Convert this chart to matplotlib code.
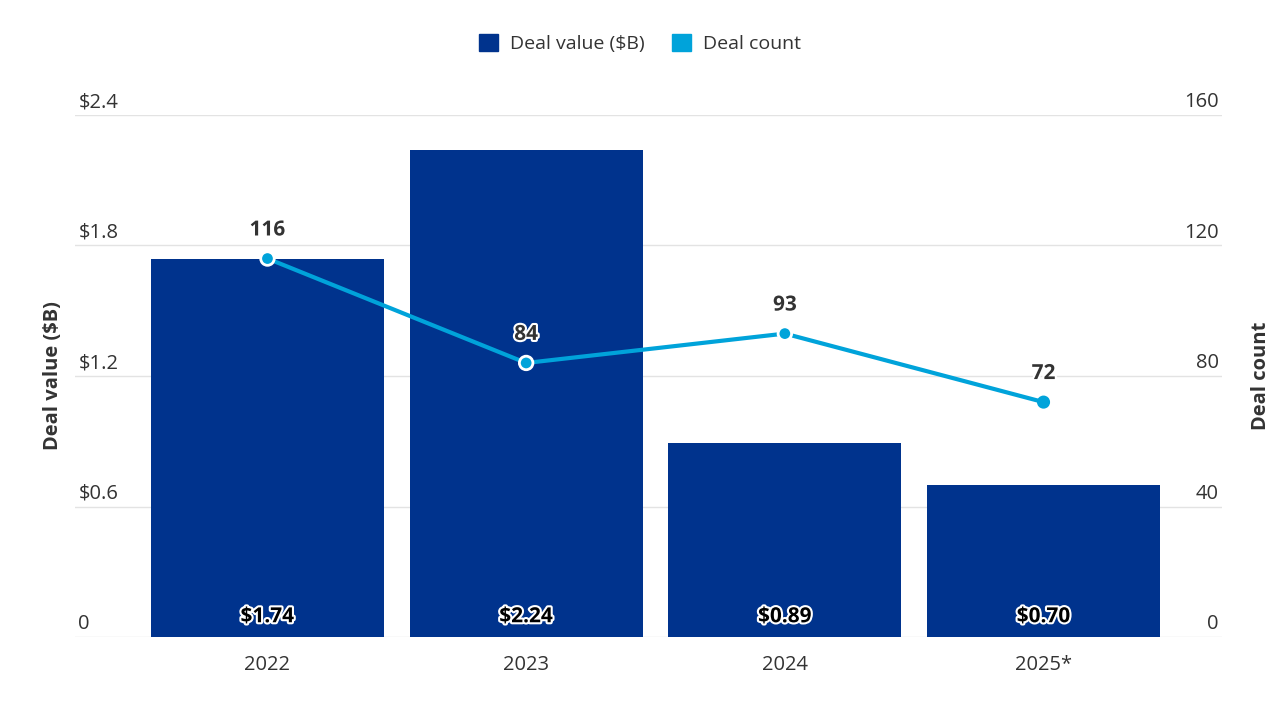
import matplotlib.pyplot as plt
import matplotlib.patheffects as pe
from matplotlib.patches import Patch

plt.rcParams['font.family'] = ['Open Sans', 'DejaVu Sans']

years = ['2022', '2023', '2024', '2025*']
deal_value = [1.74, 2.24, 0.89, 0.70]
deal_count = [116, 84, 93, 72]
value_ticks = [0, 0.6, 1.2, 1.8, 2.4]
value_tick_labels = ['0', '$0.6', '$1.2', '$1.8', '$2.4']
count_ticks = [0, 40, 80, 120, 160]

bar_color = '#00338d'
line_color = '#00a3da'
text_color = '#333333'
grid_color = '#e3e3e3'

fig = plt.figure(figsize=(12.8, 7.12), dpi=100)
ax = fig.add_axes([0.0586, 0.1053, 0.8961, 0.7332])
ax2 = ax.twinx()

x = list(range(len(years)))
ax.bar(x, deal_value, width=0.9, color=bar_color, zorder=2)
ax.set_xlim(-0.744, 3.69)
ax.set_ylim(0, 2.4)
ax2.set_ylim(0, 160)

outline = [pe.withStroke(linewidth=3, foreground='white')]

for t in value_ticks:
    ax.axhline(t, color=grid_color, lw=1, zorder=0)
for t, lab in zip(value_ticks, value_tick_labels):
    ax.text(0.003, t + 0.012, lab, transform=ax.get_yaxis_transform(),
            ha='left', va='bottom', fontsize=14.5, color=text_color)
for t in count_ticks:
    ax2.text(0.997, t + 0.8, str(t), transform=ax2.get_yaxis_transform(),
             ha='right', va='bottom', fontsize=14.5, color=text_color)

for xi, v in zip(x, deal_value):
    ax.text(xi, 0.045, f'${v:.2f}', ha='center', va='bottom', fontsize=15,
            fontweight='bold', color='black', zorder=5, path_effects=outline)

ax2.plot(x, deal_count, color=line_color, lw=3, zorder=4)
edges = ['white'] * (len(x) - 1) + [line_color]
sizes = [95] * (len(x) - 1) + [55]
ax2.scatter(x, deal_count, s=sizes, color=line_color, edgecolors=edges,
            linewidths=2, zorder=5)
for xi, c in zip(x, deal_count):
    ax2.annotate(str(c), (xi, c), xytext=(0, 13), textcoords='offset points',
                 ha='center', va='bottom', fontsize=15, fontweight='bold',
                 color=text_color, path_effects=outline, zorder=6)

for a in (ax, ax2):
    for s in a.spines.values():
        s.set_visible(False)
    a.set_yticks([])
ax.set_xticks(x)
ax.set_xticklabels(years, fontsize=14.5, color=text_color)
ax.tick_params(axis='x', length=0, pad=13)

ax.set_ylabel('Deal value ($B)', fontsize=14.5, fontweight='bold', color=text_color, labelpad=9)
ax2.set_ylabel('Deal count', fontsize=14.5, fontweight='bold', color=text_color, labelpad=21)

handles = [Patch(color=bar_color, label='Deal value ($B)'),
           Patch(color=line_color, label='Deal count')]
fig.legend(handles=handles, loc='center', bbox_to_anchor=(0.5, 0.939), ncol=2,
           frameon=False, fontsize=14, handlelength=1.0, handleheight=1.0,
           columnspacing=1.4, handletextpad=0.6, labelcolor=text_color)

fig.savefig('out.png', dpi=100)
